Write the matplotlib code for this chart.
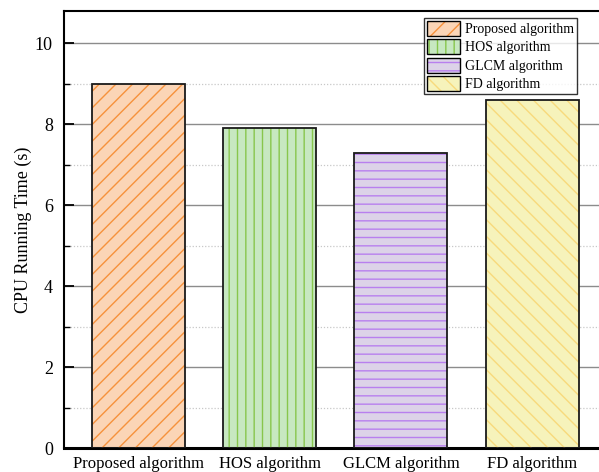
import matplotlib
matplotlib.use("Agg")
import matplotlib.pyplot as plt
from matplotlib.patches import Patch
from matplotlib.legend_handler import HandlerTuple
from matplotlib.ticker import MultipleLocator

# CPU running time per algorithm (seconds)
algorithms = ["Proposed algorithm", "HOS algorithm", "GLCM algorithm", "FD algorithm"]
run_time = [9.0, 7.9, 7.3, 8.6]

face_colors = ["#fbd5b6", "#c7e8c1", "#dcd2e8", "#f6f3bb"]
hatch_colors = ["#f6923c", "#88c64c", "#b87fee", "#f8da7c"]
hatches = ["//", "||", "--", "\\\\"]

plt.rcParams["font.family"] = ["Liberation Serif", "DejaVu Serif"]
plt.rcParams["hatch.linewidth"] = 1.0

fig = plt.figure(figsize=(5.99, 4.72), dpi=100)
ax = fig.add_axes([0.1068, 0.0508, 0.8932, 0.926])

x = list(range(1, len(algorithms) + 1))

# base fill, then hatch layer, then black outline
ax.bar(x, run_time, width=0.71, color=face_colors, edgecolor="none", zorder=2)
for xi, v, hc, h in zip(x, run_time, hatch_colors, hatches):
    ax.bar(xi, v, width=0.71, color="none", edgecolor=hc, hatch=h, linewidth=0, zorder=3)
ax.bar(x, run_time, width=0.71, color="none", edgecolor="#1a1a1a", linewidth=1.3, zorder=4)

ax.set_xlim(0.432, 4.51)
ax.set_ylim(0, 10.8)
ax.set_xticks(x)
ax.set_xticklabels(algorithms, fontsize=12)
ax.tick_params(axis="x", length=0, pad=6)

ax.yaxis.set_major_locator(MultipleLocator(2))
ax.yaxis.set_minor_locator(MultipleLocator(1))
ax.tick_params(axis="y", which="major", direction="in", length=7, width=1.3, labelsize=13, pad=8)
ax.tick_params(axis="y", which="minor", direction="in", length=4, width=1.0)
ax.set_ylabel("CPU Running Time (s)", fontsize=13, labelpad=2)

ax.grid(axis="y", which="major", color="#8c8c8c", linewidth=1.0, zorder=0)
ax.grid(axis="y", which="minor", color="#c8c8c8", linewidth=0.9, linestyle=(0, (1, 1.5)), zorder=0)
ax.set_axisbelow(True)

ax.spines["right"].set_visible(False)
ax.spines["left"].set_linewidth(1.5)
ax.spines["top"].set_linewidth(1.5)
ax.spines["bottom"].set_linewidth(2.2)

# legend keys: hatched fill with a separate black outline on top
handles = []
for fc, hc, h in zip(face_colors, hatch_colors, hatches):
    fill = Patch(facecolor=fc, edgecolor=hc, hatch=h, linewidth=0)
    outline = Patch(facecolor="none", edgecolor="black", linewidth=1.0)
    handles.append((fill, outline))

leg = ax.legend(handles, algorithms, loc="upper right", bbox_to_anchor=(0.959, 0.984),
                borderaxespad=0, fontsize=10, frameon=True, fancybox=False,
                handler_map={tuple: HandlerTuple(ndivide=1, pad=0)},
                handlelength=2.4, handleheight=1.3, handletextpad=0.35,
                labelspacing=0.22, borderpad=0.22)
leg.get_frame().set_edgecolor("black")
leg.get_frame().set_linewidth(1.0)
leg.set_zorder(10)

fig.savefig("out.png", dpi=100)
plt.close(fig)
